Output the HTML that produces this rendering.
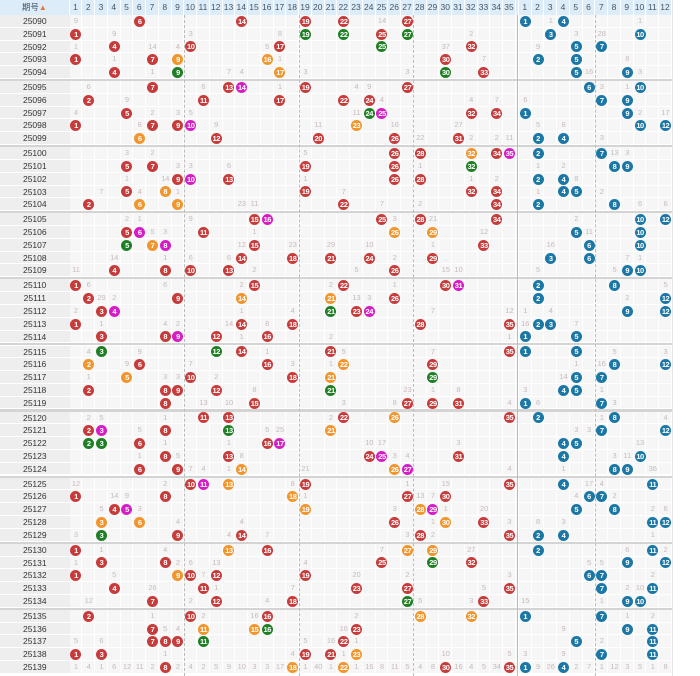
<!DOCTYPE html>
<html><head><meta charset="utf-8">
<style>
html,body{margin:0;padding:0;background:#fff;}
#chart{position:relative;width:700px;height:676px;overflow:hidden;font-family:"Liberation Sans","Noto Sans CJK SC",sans-serif;background:#fff;}
.cell{position:absolute;box-sizing:border-box;}
.hd{position:absolute;top:0;height:15px;line-height:15px;text-align:center;font-size:8.5px;color:#456;background:#dcedf9;border-right:1px solid #fff;box-sizing:border-box;}
.pd{position:absolute;left:0;width:69px;text-align:center;font-size:8.5px;color:#333;background:#eeeeee;border-bottom:1px solid #fff;box-sizing:border-box;}
.bg{position:absolute;background:#f6f6f6;border-right:1px solid #fff;border-bottom:1px solid #fff;box-sizing:border-box;}
.ball{position:absolute;width:11px;height:11px;border-radius:50%;color:#fff;font-size:7.5px;font-weight:bold;line-height:11px;text-align:center;letter-spacing:-0.5px;}
.miss{position:absolute;width:13px;text-align:center;font-size:7.5px;color:#c9baba;}
.vl{position:absolute;top:15px;height:661px;width:0;border-left:1px dashed #bbb;}
.sep{position:absolute;left:0;width:673px;height:2px;background:#d4d4d4;}
</style></head>
<body>
<div id="chart"></div>
<script>
const periods=[];for(let p=25090;p<=25139;p++)periods.push(String(p));
const redBalls=[
"6r 14r 19r 22r 27r","1r 19g 22g 25r 27g","4r 10r 17r 25g 32r","1r 7r 9o 16o 30r","4r 9g 17o 30g 33r",
"7r 13r 14m 19r 27r","2r 11r 17r 22r 24r","5r 24g 25m 32r 34r","1r 7r 9r 10m 23o","6o 12r 20r 26r 31r",
"26r 28r 32o 34r 35m","5r 7r 19r 26r 32g","9r 10m 13r 26r 28r","5r 8o 19r 32r 34r","2r 6o 9o 22r 34r",
"15r 16m 25r 28r 34r","5r 6m 11r 26o 29o","5g 7o 8m 15r 33r","14r 18r 21r 24r 29r","4r 8r 10r 13r 26r",
"1r 15r 22r 30r 31m","2r 9r 14o 21o 26r","3r 4m 21g 23r 24m","1r 14r 18r 28r 35r","3r 8r 9m 12r 16r",
"3g 12g 14r 21r 35r","2o 6r 16r 22o 29r","5o 10r 18r 21o 29g","2r 8r 9r 12r 21g","8r 15r 27r 29r 31r",
"11r 13r 22r 26o 35r","2r 3m 8r 13g 21o","2g 3g 6r 16r 17m","8r 13r 24r 25m 31r","6r 9r 14o 26o 27m",
"10r 11m 13o 19r 35r","1r 8r 18o 27r 30r","4r 5m 19o 28o 29m","3o 6o 26r 30o 33r","3g 9r 14r 28r 35r",
"1r 13o 16r 27o 29o","3r 8r 25r 29g 32r","1r 9o 10r 12r 19r","4r 11r 23r 27r 35r","7r 12r 18r 27g 33r",
"2r 10r 16r 28o 32o","7r 11o 15o 16g 23r","7r 8r 9r 11g 22r","1r 3r 19r 21r 23o","8r 18o 22o 30r 35r"];
const blueBalls=[
"1 4","3 10","5 7","2 5","5 9","6 10","7 9","1 9","10 12","2 4",
"2 7","8 9","2 4","4 5","2 8","10 12","5 10","6 10","3 6","9 10",
"2 8","2 12","9 12","2 3","1 5","1 5","8 12","5 7","4 5","1 7",
"2 8","7 12","4 5","4 10","8 9","4 11","6 7","5 8","11 12","2 4",
"2 11","9 12","6 7","7 11","9 10","1 7","9 11","5 11","7 11","1 4"];
const redMiss=[
"1:9 25:14","4:9 10:3 17:8 32:2","1:1 7:14 9:4 16:5 30:37","4:1 17:1 33:7","7:1 13:7 14:4 19:3 27:3",
"2:6 11:6 17:1 23:4 24:9","5:9 25:4 32:4 34:7","1:4 7:2 9:3 10:5 23:11","6:8 12:9 20:11 26:16 31:27","28:22 32:2 34:2 35:11",
"5:3 7:2 19:5","9:3 10:3 13:6 28:1","5:1 8:14 19:1 32:1 34:2","3:7 6:4 9:1 22:7","14:23 15:11 25:7 28:2",
"5:2 6:1 10:9 26:3 29:21","7:5 8:3 15:1 33:12","14:12 18:23 21:29 24:10 29:1","4:14 8:1 10:6 13:6 26:2","1:11 15:2 23:5 30:15 31:10",
"2:6 8:6 14:2 21:2 26:1","3:29 4:2 23:13 24:3","1:2 14:1 18:4 29:7 35:12","3:1 8:4 9:2 13:14 16:8","14:1 21:2 35:1",
"2:4 6:9 16:1 22:5 29:7","5:9 10:7 18:3 21:1","2:1 8:3 9:3 12:2","15:8 27:23 29:1 31:8","11:13 13:10 22:3 26:8 35:4",
"2:2 3:5 8:1 21:2","6:5 16:5 17:25","8:1 13:1 24:10 25:17 31:3","6:1 9:5 14:8 26:3 27:4","10:7 11:4 13:1 19:21 35:4",
"1:12 8:2 18:8 27:1 30:15","4:14 5:9 19:1 28:13 29:7","3:5 6:3 26:3 30:1 33:20","9:4 14:4 29:1 35:3","1:3 13:4 16:7 27:3 29:2",
"3:1 8:4 25:7 32:27","1:1 9:2 10:6 12:13 19:4","4:5 11:7 23:20 27:2 35:3","7:26 12:1 18:7 33:5","2:12 10:2 16:4 28:5 32:3",
"7:1 11:2 15:16 23:2","8:5 9:4 22:16","1:5 3:6 19:5 21:16 23:1","8:1 18:4 22:1 30:10 35:5",
"1:1 2:4 3:1 4:6 5:12 6:11 7:2 9:2 10:4 11:2 12:5 13:9 14:10 15:3 16:3 17:17 19:1 20:40 21:1 23:1 24:16 25:8 26:11 27:5 28:4 29:8 31:16 32:4 33:5 34:34"];
const blueMiss=[
"3:1 10:1","5:3 7:28","2:9","9:8","6:16 10:3","7:3 9:1","1:6","10:2 12:17","2:5 4:8","7:3",
"8:13 9:3","2:1 4:2","5:8","2:1 7:2","10:6 12:6","5:2","6:11","3:16","9:7 10:1","2:5 8:5",
"12:5","9:2","1:1 3:4","1:16 5:7","","8:5 12:3","5:1 7:16","4:14","1:3 7:1","2:6 8:3",
"7:1 12:4","5:3 6:3","10:13","8:3 9:11","4:1 11:36","6:17 7:4","5:4 8:2","11:2 12:6","2:8 4:3","11:1",
"9:6 12:2","6:5 7:5","11:2","9:2 10:10","1:15 7:1","9:1 11:2","4:9","7:2","1:3 4:9","2:9 3:26 5:2 6:7 7:1 8:12 9:3 10:5 11:1 12:8"];

const chart=document.getElementById('chart');
const CW=12.75, RED0=69.6, BLUE0=518.9, RH=12.78, TOP=15;
function xRed(c){return RED0+(c-1)*CW;}
function xBlue(c){return BLUE0+(c-1)*CW;}
function yRow(i){return TOP+i*RH+Math.floor(i/5)*2.2;}
const colors={r:'#c73b3b',o:'#f2952c',g:'#1f7f24',m:'#d61cc6',b:'#1b77a6'};
function add(cls,x,y,w,h,txt){const d=document.createElement('div');d.className=cls;d.style.left=x+'px';d.style.top=y+'px';if(w!=null)d.style.width=w+'px';if(h!=null){d.style.height=h+'px';d.style.lineHeight=h+'px';}if(txt!=null)d.textContent=txt;chart.appendChild(d);return d;}

// header
let h=add('hd',0,0,69.6,15,'期号');


h.innerHTML='期号<span style="color:#e8743b;font-size:8px">&#9650;</span>';
for(let c=1;c<=35;c++){const e=add('hd',xRed(c),0,CW,15,String(c));

}
add('hd',xRed(36),0,BLUE0-xRed(36),15,'');
for(let c=1;c<=12;c++){const e=add('hd',xBlue(c),0,CW,15,String(c));

}

// rows
periods.forEach((p,i)=>{
 const y=yRow(i);
 const pd=add('pd',0,y,69.6,RH,p);
 
 
 for(let c=1;c<=35;c++)add('bg',xRed(c),y,CW,RH);
 add('bg',xRed(36),y,BLUE0-xRed(36),RH);
 for(let c=1;c<=12;c++)add('bg',xBlue(c),y,CW,RH);
 redMiss[i].split(' ').filter(Boolean).forEach(t=>{const [c,v]=t.split(':');
  const m=add('miss',xRed(+c)-0.1,y,13,RH,v);
  
  });
 blueMiss[i].split(' ').filter(Boolean).forEach(t=>{const [c,v]=t.split(':');
  const m=add('miss',xBlue(+c)-0.1,y,13,RH,v);
  
  });
 redBalls[i].split(' ').filter(Boolean).forEach(t=>{const n=parseInt(t);const col=t.slice(-1);
  const b=add('ball',xRed(n)+CW/2-5.5,y+RH/2-5.5,null,null,String(n));
  b.style.background=colors[col];
  
  });
 blueBalls[i].split(' ').filter(Boolean).forEach(t=>{const n=parseInt(t);
  const b=add('ball',xBlue(n)+CW/2-5.5,y+RH/2-5.5,null,null,String(n));
  b.style.background=colors.b;
  
  });
});
// group separators
for(let g=1;g<10;g++){const s=add('sep',0,yRow(g*5)-2.2,null,null);s.style.height='2.2px';
 
 }
// vertical dividers
[xRed(10),xRed(19),xRed(28),xBlue(7)].forEach(x=>{const v=add('vl',x-0.5,15,null,null);
 
 });
const v2=add('vl',xRed(36)+1,15,null,null);v2.style.borderLeft='1px solid #bbb';


const v3=add('vl',672,0,null,null);v3.style.height='676px';v3.style.borderLeft='1px solid #e3e3e3';


</script>
</body></html>
